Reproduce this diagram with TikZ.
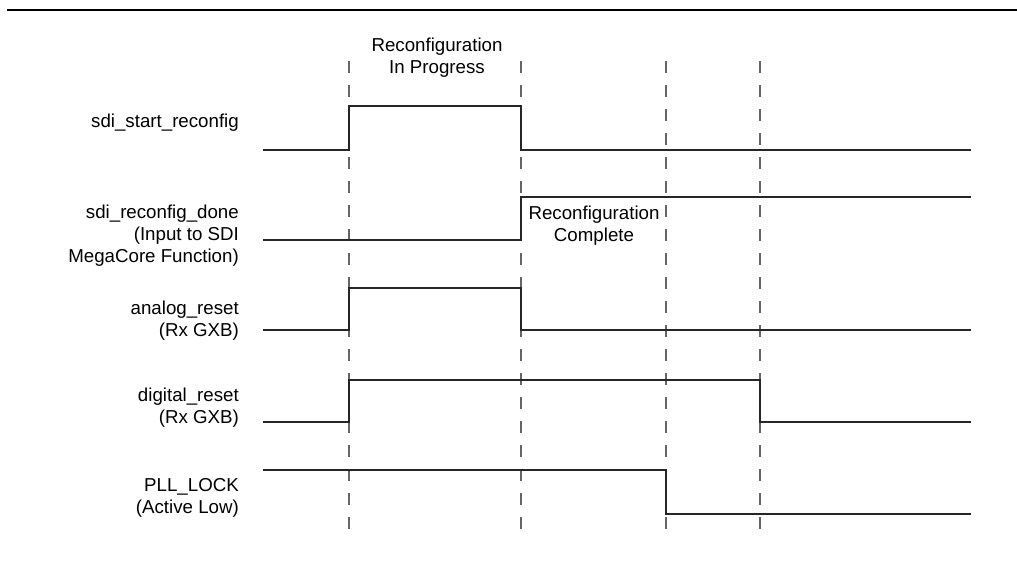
\documentclass[tikz,border=0pt]{standalone}
\usepackage{fontspec}
\setmainfont{Liberation Sans}
\tikzset{
  wave/.style={line width=1.4pt, draw=black!85},
  guide/.style={line width=1.3pt, draw=black!60, dash pattern=on 12pt off 12pt},
  sig/.style={anchor=east, align=right, inner sep=0pt,
    font=\fontsize{18.7}{22}\selectfont},
  note/.style={align=center, inner sep=0pt,
    font=\fontsize{18.7}{22}\selectfont}
}
\begin{document}
\begin{tikzpicture}[x=1pt,y=-1pt]
  \useasboundingbox (0,0) rectangle (1017,575);
  \draw[line width=2.3pt] (7,10) -- (1017,10);
  % time markers
  \foreach \t in {349,521,666,760} {
    \draw[guide] (\t,61) -- (\t,530);
  }
  % waveforms
  \draw[wave] (263,150) -- (349,150) -- (349,106) -- (521,106) -- (521,150) -- (971,150);
  \draw[wave] (263,240) -- (521,240) -- (521,197) -- (971,197);
  \draw[wave] (263,330) -- (349,330) -- (349,288) -- (521,288) -- (521,330) -- (971,330);
  \draw[wave] (263,422) -- (349,422) -- (349,380) -- (760,380) -- (760,422) -- (971,422);
  \draw[wave] (263,470) -- (666,470) -- (666,514) -- (971,514);
  % signal names
  \node[sig] (start) at (239,123) {sdi\_start\_reconfig};
  \node[sig] (done) at (239,236) {sdi\_reconfig\_done\\(Input to SDI\\MegaCore Function)};
  \node[sig] (analog) at (239,321) {analog\_reset\\(Rx GXB)};
  \node[sig] (digital) at (239,408) {digital\_reset\\(Rx GXB)};
  \node[sig] (lock) at (239,498) {PLL\_LOCK\\(Active Low)};
  % phases
  \node[note] (progress) at (437,58) {Reconfiguration\\In Progress};
  \node[note] (complete) at (594,226) {Reconfiguration\\Complete};
\end{tikzpicture}
\end{document}
